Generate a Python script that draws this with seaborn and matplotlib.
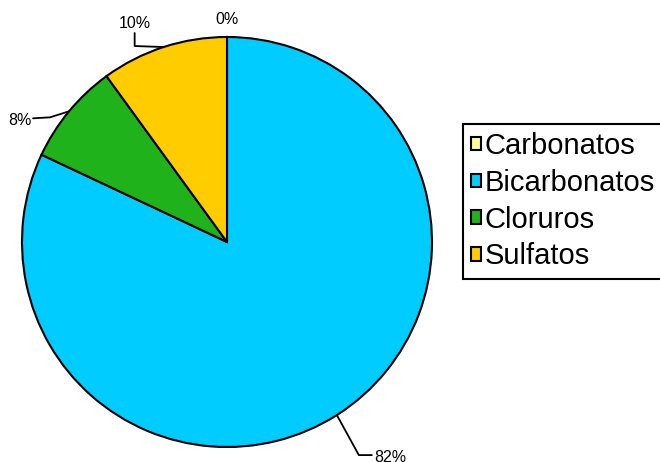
import matplotlib
matplotlib.use("Agg")
import matplotlib.pyplot as plt
from matplotlib.patches import Patch
from matplotlib.lines import Line2D
import numpy as np
import seaborn as sns

# Composition of dissolved anions (percent)
categories = ["Carbonatos", "Bicarbonatos", "Cloruros", "Sulfatos"]
percentages = [0, 82, 8, 10]
colors = ["#FFFF99", "#00CCFF", "#1FB21A", "#FFCC00"]

sns.set_theme(style="white")
plt.rcParams["font.family"] = ["Liberation Sans", "DejaVu Sans"]

W, H, DPI = 660, 462, 100
fig = plt.figure(figsize=(W / DPI, H / DPI), dpi=DPI)
fig.patch.set_facecolor("white")

# pie centre and radius in pixels
cx, cy, R = 227, 242, 205
span = 1.15
side = 2 * R * span
ax = fig.add_axes([(cx - side / 2) / W, (H - cy - side / 2) / H, side / W, side / H])

wedges, _ = ax.pie(
    percentages,
    colors=colors,
    startangle=90,
    counterclock=False,
    radius=1.0,
    wedgeprops=dict(edgecolor="black", linewidth=1.5),
)
ax.set_xlim(-span, span)
ax.set_ylim(-span, span)
ax.set_aspect("equal", adjustable="box")
ax.axis("off")

# leader geometry for each label, in pixel offsets from the wedge edge midpoint:
# (polyline points, text position, horizontal alignment)
leaders = {
    "Carbonatos": ([], (0, -18), "center"),
    "Bicarbonatos": ([(22, 40), (35, 40)], (37, 42), "left"),
    "Cloruros": ([(-19, 6), (-36, 7)], (-37, 9), "right"),
    "Sulfatos": ([(-29, -1), (-29, -14)], (-29, -24), "center"),
}


def px_offset(x, y, dx, dy):
    return x + dx / R, y - dy / R


for wedge, name, pct in zip(wedges, categories, percentages):
    mid = np.deg2rad((wedge.theta1 + wedge.theta2) / 2)
    ex, ey = np.cos(mid), np.sin(mid)
    pts, tpos, ha = leaders[name]
    if pts:
        xs = [ex] + [px_offset(ex, ey, dx, dy)[0] for dx, dy in pts]
        ys = [ey] + [px_offset(ex, ey, dx, dy)[1] for dx, dy in pts]
        ax.add_line(Line2D(xs, ys, color="black", linewidth=1.3, clip_on=False,
                           solid_joinstyle="round"))
    tx, ty = px_offset(ex, ey, *tpos)
    ax.text(tx, ty, f"{pct:.0f}%", ha=ha, va="center", fontsize=11.5,
            color="black", clip_on=False)

handles = [Patch(facecolor=c, edgecolor="black", linewidth=1.5) for c in colors]
leg = fig.legend(
    handles,
    categories,
    loc="upper left",
    bbox_to_anchor=(463 / W, 1 - 124 / H),
    bbox_transform=fig.transFigure,
    fontsize=21,
    frameon=True,
    fancybox=False,
    shadow=False,
    handlelength=0.34,
    handleheight=0.34,
    handletextpad=0.12,
    labelspacing=0.3,
    borderpad=0.28,
    borderaxespad=0,
)
for t in leg.get_texts():
    t.set_color("black")
frame = leg.get_frame()
frame.set_edgecolor("black")
frame.set_linewidth(1.5)
frame.set_facecolor("white")
frame.set_alpha(1)

fig.savefig("out.png", dpi=DPI, facecolor="white")
